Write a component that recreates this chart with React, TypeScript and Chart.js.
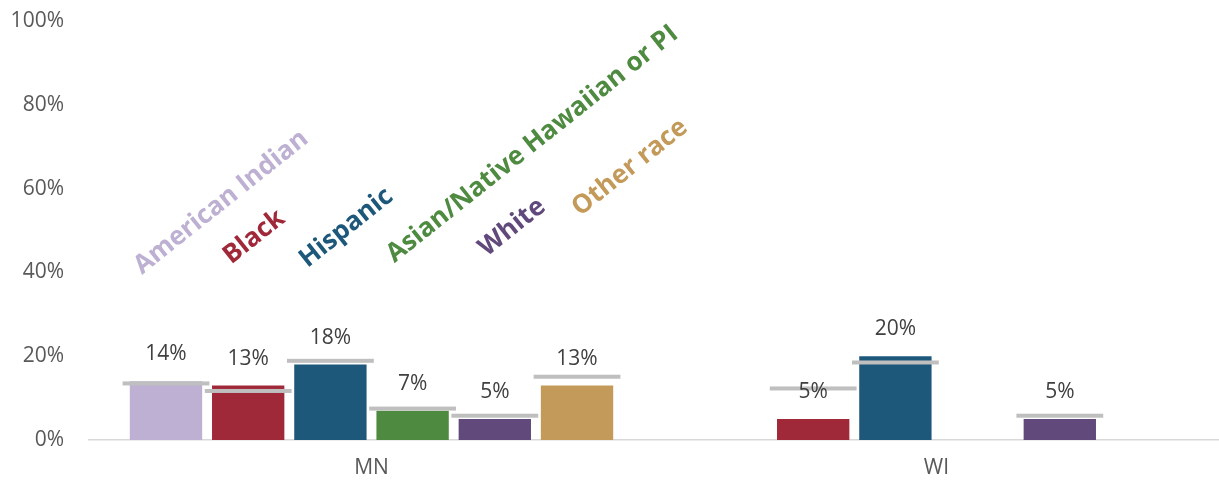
import React, { useEffect, useRef } from "react";
import { Chart, registerables } from "chart.js";

Chart.register(...registerables);

const categories = ["MN", "WI"];
const races = ["American Indian", "Black", "Hispanic", "Asian/Native Hawaiian or PI", "White", "Other race"];
const raceColors = ["#bdb0d2", "#9f2839", "#1d587b", "#4e8a40", "#614a7b", "#c39a59"];

const americanIndian = [14, null];
const black = [13, 5];
const hispanic = [18, 20];
const asianPI = [7, null];
const white = [5, 5];
const otherRace = [13, null];

const benchAmericanIndian = [13.5, null];
const benchBlack = [11.7, 12.3];
const benchHispanic = [18.9, 18.5];
const benchAsianPI = [7.5, null];
const benchWhite = [5.8, 5.8];
const benchOtherRace = [15.1, null];

const yTicks = [0, 20, 40, 60, 80, 100];

const seriesValues = [americanIndian, black, hispanic, asianPI, white, otherRace];
const benchValues = [benchAmericanIndian, benchBlack, benchHispanic, benchAsianPI, benchWhite, benchOtherRace];

// annotation placement for the rotated race names (px offset from bar centre, height in axis %)
const nameOffsetX = [-24, -17, -23, -18, -8, 3];
const nameHeightPct = [39.4, 41.8, 41.0, 42.2, 43.7, 53.3];
const NAME_ANGLE = (38.5 * Math.PI) / 180;

const FONT = "'Open Sans', sans-serif";

const overlayPlugin = {
  id: "overlay",
  afterDatasetsDraw(chart: any) {
    const ctx = chart.ctx;
    const yScale = chart.scales.y;
    ctx.save();
    // benchmark lines
    chart.data.datasets.forEach((ds: any, di: number) => {
      const meta = chart.getDatasetMeta(di);
      meta.data.forEach((bar: any, ci: number) => {
        const b = benchValues[di][ci];
        if (b == null) return;
        const w = bar.width * 1.2;
        const y = yScale.getPixelForValue(b);
        ctx.fillStyle = "#bfbfbf";
        ctx.fillRect(bar.x - w / 2, y - 2, w, 4);
      });
    });
    // value labels
    ctx.font = `21px ${FONT}`;
    ctx.fillStyle = "#404040";
    ctx.textAlign = "center";
    ctx.textBaseline = "middle";
    chart.data.datasets.forEach((ds: any, di: number) => {
      const meta = chart.getDatasetMeta(di);
      meta.data.forEach((bar: any, ci: number) => {
        const v = ds.data[ci];
        if (v == null) return;
        ctx.fillText(`${v}%`, bar.x, bar.y - 27);
      });
    });
    // rotated race names above MN group
    ctx.font = `bold 26px ${FONT}`;
    ctx.textAlign = "left";
    ctx.textBaseline = "alphabetic";
    chart.data.datasets.forEach((ds: any, di: number) => {
      const bar = chart.getDatasetMeta(di).data[0];
      const x = bar.x + nameOffsetX[di];
      const y = yScale.getPixelForValue(nameHeightPct[di]);
      ctx.save();
      ctx.translate(x, y);
      ctx.rotate(-NAME_ANGLE);
      ctx.fillStyle = raceColors[di];
      ctx.fillText(races[di], 0, 0);
      ctx.restore();
    });
    ctx.restore();
  },
};

export default function App() {
  const ref = useRef<HTMLCanvasElement | null>(null);
  useEffect(() => {
    if (!ref.current) return;
    const chart = new Chart(ref.current, {
      type: "bar",
      data: {
        labels: categories,
        datasets: races.map((r, i) => ({
          label: r,
          data: seriesValues[i] as any,
          backgroundColor: raceColors[i],
          borderWidth: 0,
          categoryPercentage: 0.873,
          barPercentage: 0.88,
        })),
      },
      options: {
        responsive: false,
        animation: false,
        layout: { padding: { top: 21, right: 0, left: 0, bottom: 0 } },
        plugins: {
          legend: { display: false },
          tooltip: { enabled: false },
        },
        scales: {
          x: {
            grid: { display: false, drawTicks: false },
            border: { display: true, color: "#d9d9d9", width: 1.5 },
            ticks: { color: "#595959", font: { family: FONT, size: 21 }, padding: 15 },
            afterFit(scale: any) {
              scale.height = 45;
              scale.paddingLeft = 0;
              scale.paddingRight = 0;
            },
          },
          y: {
            min: 0,
            max: 100,
            afterBuildTicks(scale: any) {
              scale.ticks = yTicks.map((v) => ({ value: v }));
            },
            grid: { display: false, drawTicks: false },
            border: { display: false },
            ticks: {
              color: "#595959",
              font: { family: FONT, size: 21 },
              padding: 25,
              callback: (v: any) => `${v}%`,
            },
            afterFit(scale: any) {
              scale.width = 89;
              scale.paddingTop = 0;
              scale.paddingBottom = 0;
            },
          },
        },
      },
      plugins: [overlayPlugin],
    });
    return () => chart.destroy();
  }, []);
  return (
    <div style={{ position: "fixed", left: 0, top: 0, width: 1219, height: 485, background: "#fff" }}>
      <canvas ref={ref} width={1219} height={485} style={{ display: "block" }} />
    </div>
  );
}
